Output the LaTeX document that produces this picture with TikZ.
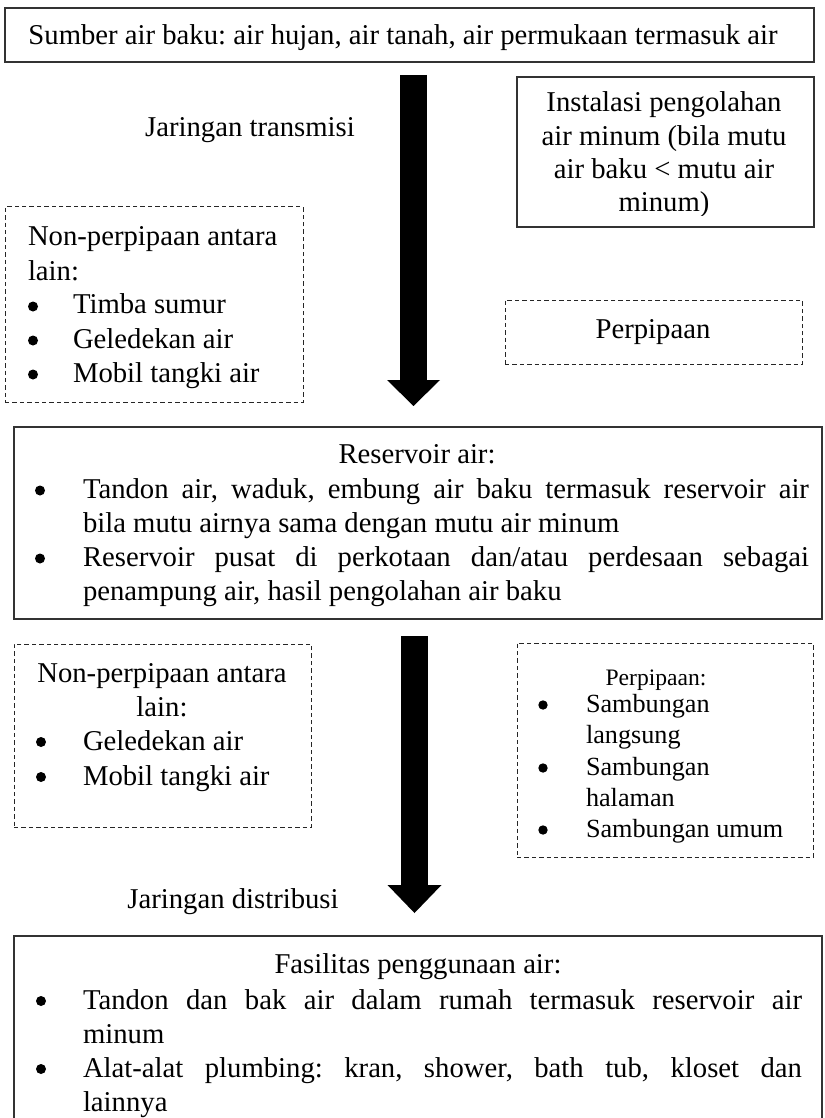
\documentclass[tikz,border=0pt]{standalone}
\usepackage{fontspec}
\setmainfont{Liberation Serif}
\usetikzlibrary{fit}
\newcommand\mainfs{\fontsize{14.35pt}{17pt}\selectfont}
\newcommand\itemfs{\fontsize{13.1pt}{15.5pt}\selectfont}
\newcommand\headfs{\fontsize{11.8pt}{14pt}\selectfont}

\begin{document}
\frenchspacing
\begin{tikzpicture}[x=0.5pt,y=-0.5pt,
  lbl/.style={inner sep=0pt,outer sep=0pt,anchor=base,font=\mainfs},
  lbll/.style={lbl,anchor=base west},
  solidbox/.style={draw=black!80,line width=0.8pt,inner sep=0pt},
  dashbox/.style={draw=black!85,line width=0.5pt,dash pattern=on 2.2pt off 1.5pt,inner sep=0pt},
  bul/.style={circle,fill=black,inner sep=0pt,minimum size=5pt},
  shaft/.style={line width=13.5pt,line cap=butt},
]
\useasboundingbox (0,0) rectangle (824,1118);
\clip (0,0) rectangle (824,1118);

% source of raw water
\node[solidbox,fit={(5,8)(814,62)}] (src) {};
\node[lbl] (srcT) at (403,45) {Sumber air baku: air hujan, air tanah, air permukaan termasuk air};

% transmission label
\node[lbl] (jt) at (250,137) {Jaringan transmisi};

% treatment plant (text clipped by its frame)
\node[solidbox,fit={(517,77)(814,227)}] (ipa) {};
\begin{scope}
  \clip (517,77) rectangle (814,216);
  \node[lbl] (ipa1) at (664,112) {Instalasi pengolahan};
  \node[lbl] (ipa2) at (664,146) {air minum (bila mutu};
  \node[lbl] (ipa3) at (664,179) {air baku < mutu air};
  \node[lbl] (ipa4) at (664,212) {minum)};
\end{scope}

% non-piped transmission
\node[dashbox,fit={(5,207)(303,402)}] (np1) {};
\node[lbll] (np1a) at (28,246) {Non-perpipaan antara};
\node[lbll] (np1b) at (28,280) {lain:};
\node[bul] (np1d1) at (33,306.5) {};
\node[lbll] (np1c1) at (73,314) {Timba sumur};
\node[bul] (np1d2) at (33,340.5) {};
\node[lbll] (np1c2) at (73,348) {Geledekan air};
\node[bul] (np1d3) at (33,374.5) {};
\node[lbll] (np1c3) at (73,382) {Mobil tangki air};

% piped transmission
\node[dashbox,fit={(505,300)(802,364)}] (pp1) {};
\node[lbl] (pp1t) at (653,338) {Perpipaan};

% first flow arrow
\coordinate (a1top) at (413.5,75);
\coordinate (a1base) at (413.5,381);
\coordinate (a1tip) at (413.5,406);
\draw[shaft] (a1top) -- (a1base);
\fill (a1tip) -- ++(-26.5,-26) -- ++(53,0) -- cycle;

% reservoir
\node[solidbox,fit={(14,427)(822,619)}] (res) {};
\node[lbl] (resT) at (417,463) {Reservoir air:};
\node[bul] (resd1) at (40,490.5) {};
\node[lbll] (res1a) at (83,498) {\makebox[363pt][s]{Tandon air, waduk, embung air baku termasuk reservoir air}};
\node[lbll] (res1b) at (83,532) {bila mutu airnya sama dengan mutu air minum};
\node[bul] (resd2) at (40,558.5) {};
\node[lbll] (res2a) at (83,566) {\makebox[363pt][s]{Reservoir pusat di perkotaan dan/atau perdesaan sebagai}};
\node[lbll] (res2b) at (83,600) {penampung air, hasil pengolahan air baku};

% non-piped distribution
\node[dashbox,fit={(14,644)(311,827)}] (np2) {};
\node[lbl] (np2a) at (162,682) {Non-perpipaan antara};
\node[lbl] (np2b) at (162,716) {lain:};
\node[bul] (np2d1) at (41,742) {};
\node[lbll] (np2c1) at (83,750) {Geledekan air};
\node[bul] (np2d2) at (41,777) {};
\node[lbll] (np2c2) at (83,785) {Mobil tangki air};

% piped distribution
\node[dashbox,fit={(517,643)(813,857)}] (pp2) {};
\node[lbl,font=\headfs] (pp2t) at (656,685) {Perpipaan:};
\node[bul,minimum size=4.7pt] (pp2d1) at (543,705) {};
\node[lbll,font=\itemfs] (pp2c1) at (586,712) {Sambungan};
\node[lbll,font=\itemfs] (pp2c1b) at (586,743) {langsung};
\node[bul,minimum size=4.7pt] (pp2d2) at (543,768) {};
\node[lbll,font=\itemfs] (pp2c2) at (586,775) {Sambungan};
\node[lbll,font=\itemfs] (pp2c2b) at (586,806) {halaman};
\node[bul,minimum size=4.7pt] (pp2d3) at (543,830) {};
\node[lbll,font=\itemfs] (pp2c3) at (586,837) {Sambungan umum};

% second flow arrow
\coordinate (a2top) at (414.5,636);
\coordinate (a2base) at (414.5,886);
\coordinate (a2tip) at (414.5,913);
\draw[shaft] (a2top) -- (a2base);
\fill (a2tip) -- ++(-27,-28) -- ++(54,0) -- cycle;

% distribution label
\node[lbl] (jd) at (233,908) {Jaringan distribusi};

% water use facilities
\node[solidbox,fit={(14,936)(822,1135)}] (fas) {};
\node[lbl] (fasT) at (418,973) {Fasilitas penggunaan air:};
\node[bul] (fasd1) at (41,1001) {};
\node[lbll] (fas1a) at (83,1009) {\makebox[359.5pt][s]{Tandon dan bak air dalam rumah termasuk reservoir air}};
\node[lbll] (fas1b) at (83,1043) {minum};
\node[bul] (fasd2) at (41,1069) {};
\node[lbll] (fas2a) at (83,1077) {\makebox[359.5pt][s]{Alat-alat plumbing: kran, shower, bath tub, kloset dan}};
\node[lbll] (fas2b) at (83,1111) {lainnya};
\end{tikzpicture}
\end{document}
